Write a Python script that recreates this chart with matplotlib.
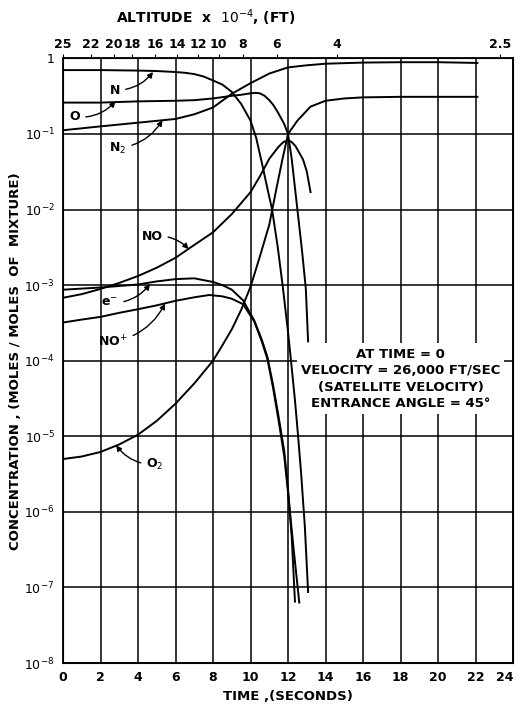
import matplotlib
matplotlib.use("Agg")
import matplotlib.pyplot as plt

# time (s) and concentration (moles / moles of mixture)
n_t = [0, 2, 4, 5, 6, 6.5, 7, 7.5, 8, 8.5, 9, 9.5, 10, 10.3, 10.6, 10.9, 11.15, 11.45, 11.73, 12.0, 12.2,
       12.37, 12.53, 12.7, 12.9, 13.07]
n_c = [7.0e-1, 7.0e-1, 6.9e-1, 6.8e-1, 6.6e-1, 6.45e-1, 6.2e-1, 5.75e-1, 5.1e-1, 4.5e-1, 3.6e-1, 2.5e-1,
       1.5e-1, 8.9e-2, 4.2e-2, 1.9e-2, 1.0e-2, 3.2e-3, 9.1e-4, 2.4e-4, 7.9e-5, 3.0e-5, 1.05e-5, 3.2e-6,
       6.2e-7, 8.7e-8]

o_t = [0, 2, 4, 6, 7, 8, 9, 9.5, 10, 10.25, 10.5, 10.75, 11.0, 11.2, 11.45, 11.8, 12.0, 12.2, 12.5, 12.75,
       12.95, 13.07]
o_c = [2.6e-1, 2.6e-1, 2.7e-1, 2.75e-1, 2.8e-1, 2.95e-1, 3.2e-1, 3.3e-1, 3.45e-1, 3.5e-1, 3.45e-1, 3.2e-1,
       2.8e-1, 2.45e-1, 1.95e-1, 1.35e-1, 1.0e-1, 4.6e-2, 1.0e-2, 2.8e-3, 8.9e-4, 1.8e-4]

n2_t = [0, 2, 4, 6, 7, 8, 9, 10, 11, 12, 13, 14, 16, 18, 20, 22.1]
n2_c = [1.12e-1, 1.26e-1, 1.41e-1, 1.58e-1, 1.82e-1, 2.24e-1, 3.4e-1, 4.7e-1, 6.3e-1, 7.6e-1, 8.1e-1, 8.5e-1,
        8.8e-1, 8.9e-1, 8.9e-1, 8.7e-1]

o2_t = [0, 1, 2, 3, 4, 5, 6, 7, 8, 8.5, 9, 9.5, 10, 10.5, 11.0, 11.4, 11.7, 12.0, 12.5, 13.2, 14, 15, 16, 18,
        20, 22.1]
o2_c = [5.0e-6, 5.4e-6, 6.2e-6, 7.8e-6, 1.05e-5, 1.6e-5, 2.7e-5, 5.0e-5, 1.0e-4, 1.6e-4, 2.6e-4, 4.7e-4,
        9.5e-4, 2.4e-3, 6.3e-3, 2.0e-2, 4.6e-2, 1.0e-1, 1.5e-1, 2.3e-1, 2.75e-1, 2.95e-1, 3.05e-1, 3.1e-1,
        3.1e-1, 3.1e-1]

no_t = [0, 1, 2, 3, 4, 5, 6, 7, 8, 9, 10, 10.5, 11.0, 11.5, 11.75, 12.0, 12.2, 12.4, 12.8, 13.0, 13.2]
no_c = [6.8e-4, 7.6e-4, 8.9e-4, 1.07e-3, 1.32e-3, 1.7e-3, 2.3e-3, 3.4e-3, 5.0e-3, 8.7e-3, 1.7e-2, 2.75e-2,
        4.7e-2, 6.8e-2, 7.8e-2, 8.3e-2, 7.8e-2, 6.9e-2, 4.6e-2, 3.2e-2, 1.7e-2]

e_t = [0, 2, 4, 5, 6, 7, 8, 8.5, 9, 9.6, 10.2, 10.6, 10.9, 11.2, 11.5, 11.8, 12.0, 12.2, 12.37]
e_c = [8.7e-4, 9.3e-4, 1.02e-3, 1.12e-3, 1.2e-3, 1.23e-3, 1.1e-3, 1.0e-3, 8.7e-4, 6.3e-4, 3.4e-4, 1.9e-4,
       1.12e-4, 4.8e-5, 1.8e-5, 6.3e-6, 2.0e-6, 4.5e-7, 6.5e-8]

nop_t = [0, 1, 2, 3, 4, 5, 6, 7, 7.8, 8.5, 9, 9.6, 10.2, 10.6, 10.9, 11.2, 11.5, 11.8, 12.0, 12.3, 12.6]
nop_c = [3.2e-4, 3.5e-4, 3.8e-4, 4.3e-4, 4.8e-4, 5.4e-4, 6.2e-4, 6.9e-4, 7.4e-4, 7.1e-4, 6.6e-4, 5.6e-4,
         3.3e-4, 1.8e-4, 1.05e-4, 4.4e-5, 1.6e-5, 5.4e-6, 1.8e-6, 3.2e-7, 6.3e-8]

# top axis: altitude x 10^-4 ft against time
alt_labels = ["25", "22", "20", "18", "16", "14", "12", "10", "8", "6", "4", "2.5"]
alt_times = [0, 1.5, 2.7, 3.7, 4.9, 6.1, 7.2, 8.3, 9.6, 11.4, 14.6, 23.3]

x_ticks = list(range(0, 25, 2))
y_ticks = [1e-8, 1e-7, 1e-6, 1e-5, 1e-4, 1e-3, 1e-2, 1e-1, 1]
y_labels = [r"$10^{-8}$", r"$10^{-7}$", r"$10^{-6}$", r"$10^{-5}$", r"$10^{-4}$",
            r"$10^{-3}$", r"$10^{-2}$", r"$10^{-1}$", "1"]

fig = plt.figure(figsize=(5.2, 7.06), dpi=100)
ax = fig.add_axes([0.1212, 0.0609, 0.8654, 0.8564])
ax.set_yscale("log")
ax.set_xlim(0, 24)
ax.set_ylim(1e-8, 1)

lw = 1.4
for t, c in [(n_t, n_c), (o_t, o_c), (n2_t, n2_c), (o2_t, o2_c),
             (no_t, no_c), (e_t, e_c), (nop_t, nop_c)]:
    ax.plot(t, c, color="black", lw=lw, zorder=3)

ax.set_xticks(x_ticks)
ax.set_xticklabels([str(v) for v in x_ticks], fontsize=9, fontweight="bold")
# last label sits on the right edge, keep it inside the canvas
ax.get_xticklabels()[-1].set_horizontalalignment("right")
ax.set_yticks(y_ticks)
ax.set_yticklabels(y_labels, fontsize=9)
ax.minorticks_off()
ax.tick_params(length=0, pad=6)
ax.grid(True, color="black", lw=1.1)
for s in ax.spines.values():
    s.set_linewidth(1.3)

ax.set_xlabel("TIME ,(SECONDS)", fontsize=9.5, fontweight="bold", labelpad=4)
ax.set_ylabel("CONCENTRATION , (MOLES / MOLES  OF  MIXTURE)", fontsize=9.5,
              fontweight="bold", labelpad=2)

top = ax.twiny()
top.set_xlim(0, 24)
top.set_xticks(alt_times)
top.set_xticklabels(alt_labels, fontsize=9, fontweight="bold")
top.tick_params(direction="out", length=3, pad=2)
fig.text(0.395, 0.975, r"ALTITUDE  x  $10^{-4}$, (FT)", ha="center", va="center",
         fontsize=10, fontweight="bold")

# species labels with leader arrows
arrow = dict(arrowstyle="-|>", color="black", lw=1.0, mutation_scale=8,
             connectionstyle="arc3,rad=0.25", shrinkA=2, shrinkB=0)
lab = dict(fontsize=9, fontweight="bold", ha="center", va="center")
ax.annotate("N", xy=(4.8, 0.66), xytext=(2.77, 0.38), arrowprops=arrow, **lab)
ax.annotate("O", xy=(2.8, 0.27), xytext=(0.64, 0.168), arrowprops=arrow, **lab)
ax.annotate(r"N$_2$", xy=(5.3, 0.152), xytext=(2.93, 0.065), arrowprops=arrow, **lab)
ax.annotate("NO", xy=(6.7, 3.0e-3), xytext=(4.75, 4.4e-3),
            arrowprops=dict(arrow, connectionstyle="arc3,rad=-0.25"), **lab)
ax.annotate(r"e$^{-}$", xy=(4.64, 1.03e-3), xytext=(2.5, 5.8e-4), arrowprops=arrow, **lab)
ax.annotate(r"NO$^{+}$", xy=(5.44, 5.7e-4), xytext=(2.67, 1.78e-4), arrowprops=arrow, **lab)
ax.annotate(r"O$_2$", xy=(2.83, 7.6e-6), xytext=(4.9, 4.2e-6),
            arrowprops=dict(arrow, connectionstyle="arc3,rad=-0.25"), **lab)

ax.text(18.0, 10 ** -4.24,
        "AT TIME = 0\nVELOCITY = 26,000 FT/SEC\n(SATELLITE VELOCITY)\nENTRANCE ANGLE = 45°",
        ha="center", va="center", fontsize=9.5, fontweight="bold", linespacing=1.35,
        bbox=dict(facecolor="white", edgecolor="none", pad=3), zorder=4)

fig.savefig("out.png", dpi=100, facecolor="white")
